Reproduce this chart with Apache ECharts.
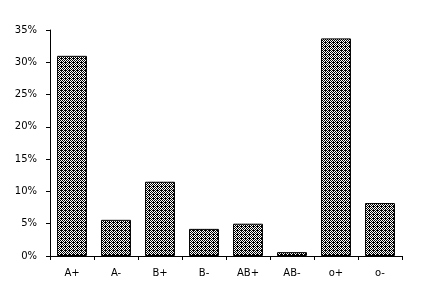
<!DOCTYPE html>
<html><head><meta charset="utf-8">
<script src="https://cdn.jsdelivr.net/npm/echarts@6/dist/echarts.min.js"></script>
<style>html,body{margin:0;padding:0;background:#fff}#c{width:423px;height:297px}</style>
</head><body><div id="c"></div>
<script>
var categories = ['A+','A-','B+','B-','AB+','AB-','o+','o-'];
var values = [31.0, 5.6, 11.5, 4.2, 5.0, 0.6, 33.7, 8.2];
var yTicks = [0,5,10,15,20,25,30,35];

var pc = document.createElement('canvas');
pc.width = 4; pc.height = 4;
var ctx = pc.getContext('2d');
ctx.fillStyle = '#fff'; ctx.fillRect(0,0,4,4);
ctx.fillStyle = '#000';
var pts = [[0,0],[2,0],[1,1],[3,1],[0,2],[2,2],[3,3],[1,3],[1,2]];
pts.forEach(function(p){ctx.fillRect(p[0],p[1],1,1);});

var chart = echarts.init(document.getElementById('c'), null, {renderer:'canvas'});
chart.setOption({
  animation:false,
  grid:{left:50,right:21,top:30,bottom:41},
  xAxis:{type:'category',data:categories,
    axisLine:{lineStyle:{color:'#000',width:1}},
    axisTick:{show:true,length:4,lineStyle:{color:'#000'}},
    axisLabel:{color:'#000',fontFamily:'DejaVu Sans',fontSize:10,margin:12}},
  yAxis:{type:'value',min:0,max:35,interval:5,
    splitLine:{show:false},
    axisLine:{show:true,lineStyle:{color:'#000'}},
    axisTick:{show:true,length:4,lineStyle:{color:'#000'}},
    axisLabel:{color:'#000',fontFamily:'DejaVu Sans',fontSize:10,margin:13,formatter:function(v){return v+'%';}}},
  series:[{type:'bar',data:values,barCategoryGap:'32%',
    itemStyle:{color:{image:pc,repeat:'repeat'},borderColor:'#000',borderWidth:1}}]
});
</script></body></html>
